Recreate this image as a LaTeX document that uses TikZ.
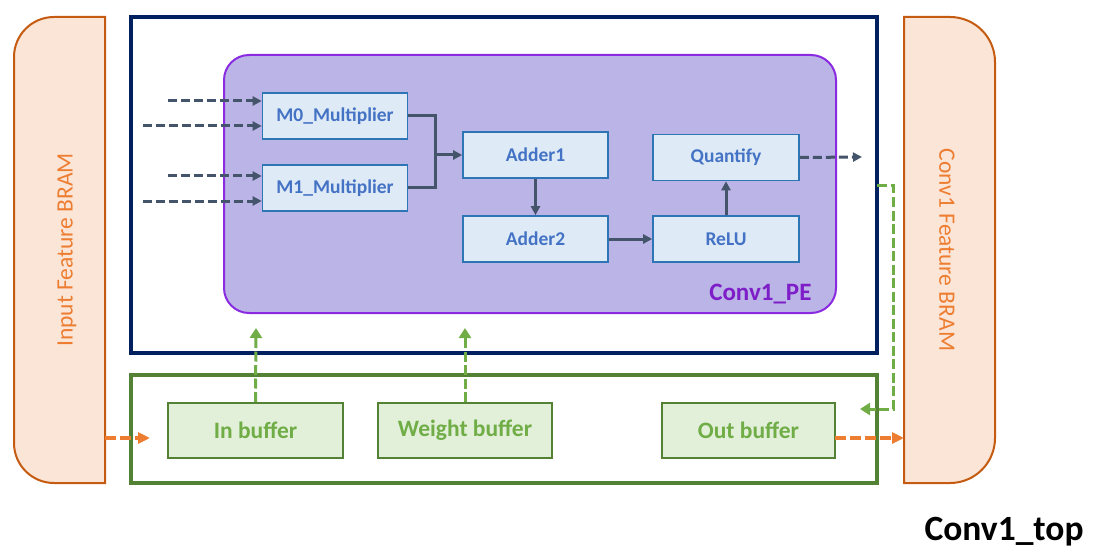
\documentclass[tikz,border=0pt]{standalone}
\usepackage{fontspec}
\setmainfont{Carlito}
\usetikzlibrary{arrows.meta}
\definecolor{navy}{HTML}{002060}
\definecolor{gdark}{HTML}{548235}
\definecolor{glight}{HTML}{70AD47}
\definecolor{gfill}{HTML}{E2F0D9}
\definecolor{obord}{HTML}{C55A11}
\definecolor{ofill}{HTML}{FBE5D6}
\definecolor{otext}{HTML}{ED7D31}
\definecolor{pfill}{HTML}{BBB4E6}
\definecolor{pbord}{HTML}{8A2BE2}
\definecolor{ptext}{HTML}{7E1EC8}
\definecolor{bfill}{HTML}{DEEBF7}
\definecolor{bbord}{HTML}{2E75B6}
\definecolor{btext}{HTML}{4472C4}
\definecolor{slate}{HTML}{44546A}
\tikzset{
  blk/.style={draw=bbord, fill=bfill, line width=1.6pt, minimum width=145pt, minimum height=46pt,
    inner sep=0pt, text=btext, font=\fontsize{19.5}{21}\selectfont\bfseries},
  buf/.style={draw=gdark, fill=gfill, line width=2pt, minimum height=55pt,
    inner sep=0pt, text=glight, font=\fontsize{23.5}{25}\selectfont\bfseries},
  dline/.style={draw=slate, line width=3pt},
  darrow/.style={dline, -{Triangle[length=9pt,width=9pt]}},
  ddash/.style={draw=slate, line width=3pt, dash pattern=on 9pt off 4pt, -{Triangle[length=9pt,width=9pt]}},
  gdash/.style={draw=glight, line width=3pt, dash pattern=on 10pt off 3.5pt, -{Triangle[length=10pt,width=12pt]}},
  odash/.style={draw=otext, line width=3.5pt, dash pattern=on 11pt off 4pt, -{Triangle[length=12pt,width=11pt]}},
  bramlbl/.style={text=otext, font=\fontsize{23.5}{25}\selectfont},
}
\begin{document}
\begin{tikzpicture}[x=1pt,y=1pt]
\useasboundingbox (0,0) rectangle (1094,-556);
% BRAMs
\draw[draw=obord, fill=ofill, line width=2pt] (105,-17) -- (54,-17) arc[start angle=90,end angle=180,radius=40]
  -- (14,-443) arc[start angle=180,end angle=270,radius=40] -- (105,-483) -- cycle;
\draw[draw=obord, fill=ofill, line width=2pt] (904,-17) -- (950,-17) arc[start angle=90,end angle=0,radius=45]
  -- (995,-438) arc[start angle=0,end angle=-90,radius=45] -- (904,-483) -- cycle;
\node[bramlbl, rotate=90] (lbram) at (67,-250) {Input Feature BRAM};
\node[bramlbl, rotate=-90] (rbram) at (947,-250) {Conv1 Feature BRAM};
% outer boxes
\node[draw=navy, line width=4pt, minimum width=746pt, minimum height=336pt, inner sep=0pt] (top) at (504,-185) {};
\node[draw=gdark, line width=4pt, minimum width=746pt, minimum height=108pt, inner sep=0pt] (bufbox) at (504,-429) {};
% PE
\node[draw=pbord, fill=pfill, line width=2pt, rounded corners=25pt, minimum width=612pt, minimum height=258pt, inner sep=0pt] (pe) at (530,-184) {};
\node[text=ptext, font=\fontsize{25}{27}\selectfont\bfseries, anchor=base east] (pelbl) at (815,-300) {Conv1\_PE};
% blocks
\node[blk] (M0) at (335,-116) {M0\_Multiplier};
\node[blk] (M1) at (335,-188) {M1\_Multiplier};
\node[blk] (A1) at (535.5,-155) {Adder1};
\node[blk] (A2) at (535.5,-239) {Adder2};
\node[blk, minimum width=146pt] (Q) at (726,-157.5) {Quantify};
\node[blk, minimum width=146pt] (R) at (726,-239) {ReLU};
% buffers
\node[buf, minimum width=175pt] (inb) at (255.5,-430.5) {In buffer};
\node[buf, minimum width=174pt] (wb) at (465,-430.5) {Weight buffer};
\node[buf, minimum width=173pt] (ob) at (748.5,-430.5) {Out buffer};
% coordinates
\coordinate (in1) at (168,-101);
\coordinate (in2) at (143,-126);
\coordinate (in3) at (168,-176);
\coordinate (in4) at (143,-201);
\coordinate (j) at (435,-155);
\coordinate (qout) at (862,-157);
\coordinate (pe1) at (256,-328);
\coordinate (pe2) at (465,-328);
\coordinate (fb0) at (877,-186);
\coordinate (fb1) at (893,-186);
\coordinate (fb2) at (860,-409);
\coordinate (lo0) at (105,-438);
\coordinate (lo1) at (150,-438);
\coordinate (ro0) at (835,-438);
\coordinate (ro1) at (904,-438);
% dark connectors
\draw[ddash] (in1) -- (in1 -| M0.west);
\draw[ddash] (in2) -- (in2 -| M0.west);
\draw[ddash] (in3) -- (in3 -| M1.west);
\draw[ddash] (in4) -- (in4 -| M1.west);
\draw[dline] (M0.east) -| (j);
\draw[dline] (M1.east) -| (j);
\draw[darrow] (j) -- (A1.west);
\draw[darrow] (A1.south) -- (A2.north);
\draw[darrow] (A2.east) -- (R.west);
\draw[darrow] (R.north) -- (Q.south);
\draw[ddash] (Q.east) -- (qout);
% green
\draw[gdash] (inb.north) -- (pe1);
\draw[gdash] (wb.north) -- (pe2);
\draw[gdash] (fb0) -- (fb1) |- (fb2);
% orange
\draw[odash] (lo0) -- (lo1);
\draw[odash] (ro0) -- (ro1);
% title
\node[font=\fontsize{35.5}{37}\selectfont\bfseries] (title) at (1004,-532) {Conv1\_top};
\end{tikzpicture}
\end{document}
